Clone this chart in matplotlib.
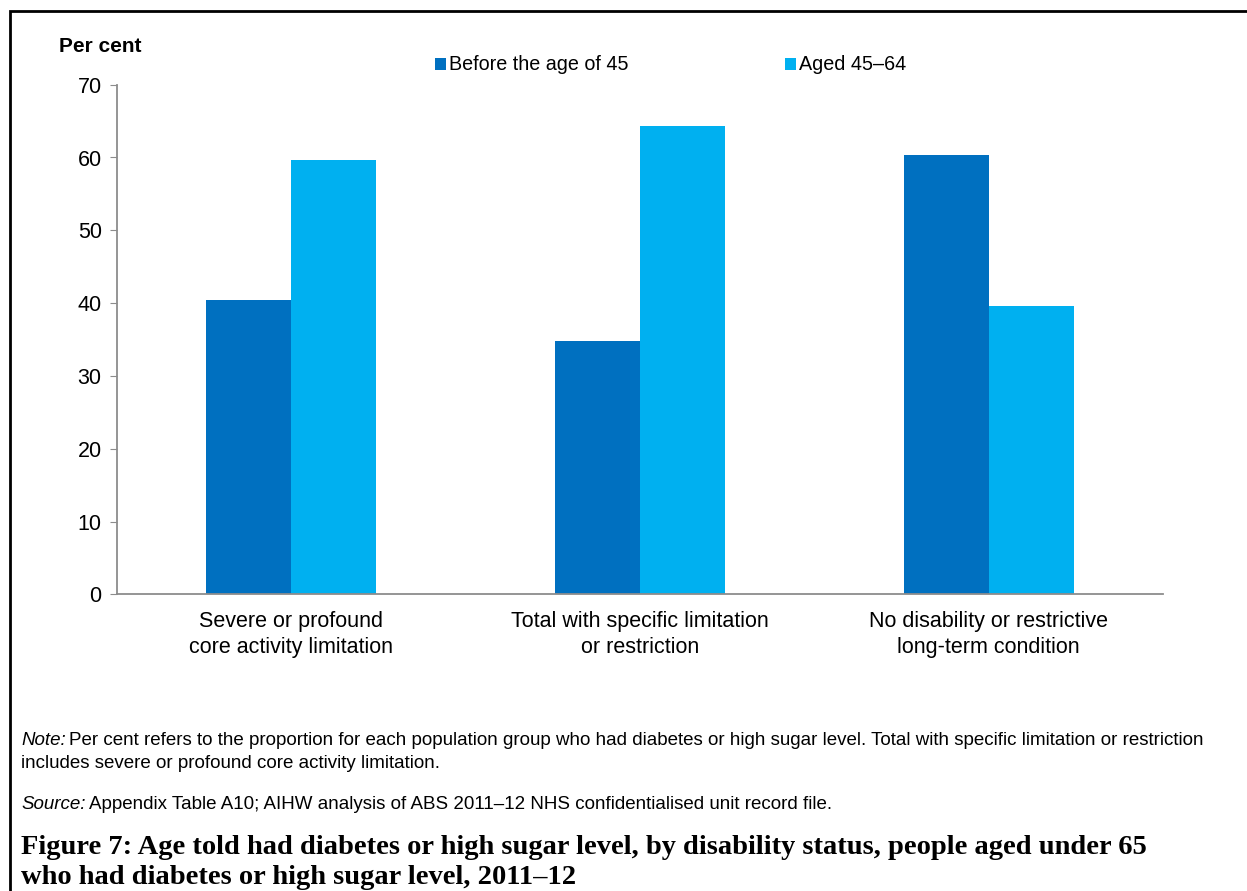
import matplotlib
matplotlib.use("Agg")
import matplotlib.pyplot as plt
from matplotlib.patches import Patch, Rectangle
import numpy as np

# Data
categories = ["Severe or profound\ncore activity limitation",
              "Total with specific limitation\nor restriction",
              "No disability or restrictive\nlong-term condition"]
before_45 = [40.4, 34.8, 60.4]
aged_45_64 = [59.6, 64.3, 39.6]
series_names = ["Before the age of 45", "Aged 45\u201364"]
y_ticks = [0, 10, 20, 30, 40, 50, 60, 70]

dark_blue = "#0070C0"
light_blue = "#00B0F0"
axis_grey = "#8C8C8C"

plt.rcParams["font.family"] = ["Liberation Sans", "DejaVu Sans"]

W, H = 1247, 891
fig = plt.figure(figsize=(W / 100, H / 100), dpi=100)
ax = fig.add_axes([117 / W, 1 - 594.3 / H, (1163 - 117) / W, (594.3 - 84.7) / H])

x = np.arange(len(categories))
width = 0.244
ax.bar(x - width / 2, before_45, width, color=dark_blue)
ax.bar(x + width / 2, aged_45_64, width, color=light_blue)

ax.set_xlim(-0.5, len(categories) - 0.5)
ax.set_ylim(0, 70)
ax.set_yticks(y_ticks)
ax.set_xticks(x)
ax.set_xticklabels(categories, fontsize=15.5, linespacing=1.3)
ax.tick_params(axis="x", length=0, pad=12)
ax.tick_params(axis="y", labelsize=15.5, length=5, color=axis_grey, pad=6)

for side in ["top", "right"]:
    ax.spines[side].set_visible(False)
for side in ["left", "bottom"]:
    ax.spines[side].set_color(axis_grey)
    ax.spines[side].set_linewidth(1.3)

# y axis title
fig.text(59 / W, 1 - 47 / H, "Per cent", fontsize=15, fontweight="bold", va="center")

# legend
handles = [Patch(facecolor=dark_blue), Patch(facecolor=light_blue)]
fig.legend(handles, series_names, loc="center left",
           bbox_to_anchor=(435 / W, 1 - 65 / H), ncol=2, frameon=False,
           fontsize=14.2, handlelength=0.56, handleheight=0.56,
           handletextpad=0.15, columnspacing=7.95, borderpad=0,
           borderaxespad=0)

# notes (italic lead-in followed by plain text)
renderer = fig.canvas.get_renderer()
note_size = 13.5


def lead_text(y_px, lead, rest):
    t = fig.text(21 / W, 1 - y_px / H, lead, fontsize=note_size,
                 style="italic", va="baseline")
    bb = t.get_window_extent(renderer)
    fig.text((bb.x1 + 3) / W, 1 - y_px / H, rest, fontsize=note_size,
             va="baseline")


lead_text(745, "Note:",
          "Per cent refers to the proportion for each population group who had "
          "diabetes or high sugar level. Total with specific limitation or restriction")
fig.text(21 / W, 1 - 768 / H,
         "includes severe or profound core activity limitation.",
         fontsize=note_size, va="baseline")
lead_text(809, "Source:",
          "Appendix Table A10; AIHW analysis of ABS 2011\u201312 NHS "
          "confidentialised unit record file.")

# figure caption
serif = ["Liberation Serif", "DejaVu Serif"]
fig.text(21 / W, 1 - 847 / H,
         "Figure 7: Age told had diabetes or high sugar level, by disability status, people aged under 65",
         fontsize=20.5, fontweight="bold", va="center", family=serif)
fig.text(21 / W, 1 - 878 / H,
         "who had diabetes or high sugar level, 2011\u201312",
         fontsize=20.5, fontweight="bold", va="center", family=serif)

# outer border
fig.add_artist(Rectangle((10 / W, -0.05), 1.1, 1 - 11 / H + 0.05,
                         transform=fig.transFigure, fill=False,
                         edgecolor="black", linewidth=2))

plt.savefig("out.png", dpi=100)
